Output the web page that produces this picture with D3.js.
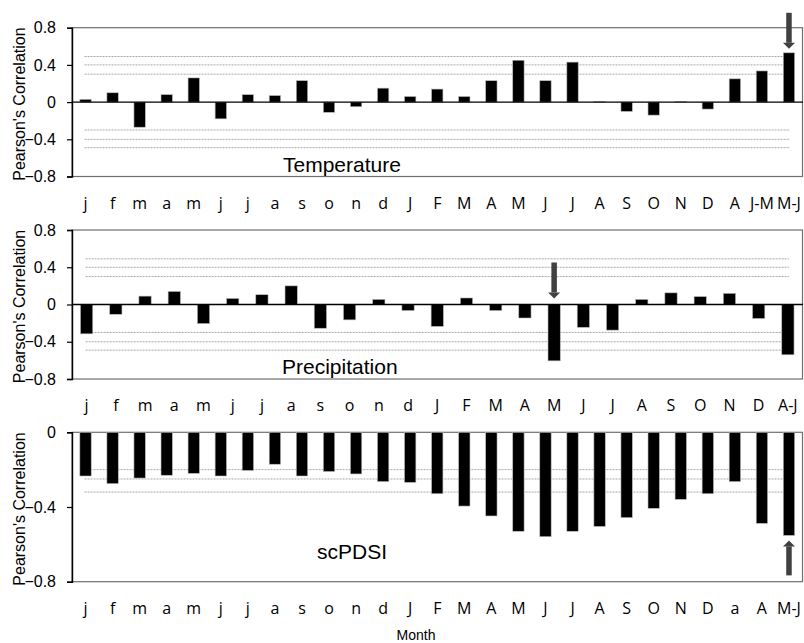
<!DOCTYPE html>
<html>
<head>
<meta charset="utf-8">
<script src="https://cdn.jsdelivr.net/npm/d3@7"></script>
<style>
  body { margin: 0; background: #fff; }
  svg { display: block; }
</style>
</head>
<body>
<svg id="chart" width="804" height="643"></svg>
<script>
// Monthly climate–growth correlations (lowercase = previous year, uppercase = current year)
const tempLabels = ["j","f","m","a","m","j","j","a","s","o","n","d","J","F","M","A","M","J","J","A","S","O","N","D","A","J-M","M-J"];
const tempValues = [0.03, 0.10, -0.27, 0.08, 0.26, -0.18, 0.08, 0.07, 0.23, -0.11, -0.05, 0.15,
                    0.06, 0.14, 0.06, 0.23, 0.45, 0.23, 0.43, 0.005, -0.10, -0.14, 0.005, -0.075,
                    0.25, 0.335, 0.53];

const precLabels = ["j","f","m","a","m","j","j","a","s","o","n","d","J","F","M","A","M","J","J","A","S","O","N","D","A-J"];
const precValues = [-0.315, -0.105, 0.09, 0.14, -0.205, 0.065, 0.105, 0.20, -0.255, -0.165, 0.055, -0.065,
                    -0.235, 0.07, -0.065, -0.145, -0.605, -0.245, -0.275, 0.055, 0.125, 0.085, 0.12, -0.15,
                    -0.54];

const pdsiLabels = ["j","f","m","a","m","j","j","a","s","o","n","d","J","F","M","A","M","J","J","A","S","O","N","D","a","A","M-J"];
const pdsiValues = [-0.234, -0.275, -0.245, -0.23, -0.22, -0.234, -0.204, -0.171, -0.234, -0.21, -0.223, -0.264,
                    -0.268, -0.329, -0.395, -0.448, -0.53, -0.559, -0.53, -0.504, -0.457, -0.407, -0.359, -0.329,
                    -0.264, -0.4875, -0.552];

// Axis ticks and significance thresholds
const fullTicks = [0.8, 0.4, 0, -0.4, -0.8];
const negTicks = [0, -0.4, -0.8];
const tempThresholds = [0.49, 0.4, 0.3, -0.3, -0.4, -0.49];
const precThresholds = [0.49, 0.4, 0.3, -0.3, -0.4, -0.49];
const pdsiThresholds = [-0.2, -0.25, -0.32];

const svg = d3.select("#chart");
const plotLeft = 72, plotRight = 802.5;
const numFont = "'Liberation Sans', Arial, sans-serif";
const catFont = "'Open Sans', 'Noto Sans', sans-serif";

const panels = [
  { labels: tempLabels, values: tempValues, domain: [-0.8, 0.8], ticks: fullTicks,
    top: 27.7, bottom: 176.5, thresholds: tempThresholds, name: "Temperature", nameX: 283, nameDy: -5,
    arrow: { index: 26, dir: "down", onBar: true } },
  { labels: precLabels, values: precValues, domain: [-0.8, 0.8], ticks: fullTicks,
    top: 230, bottom: 379, thresholds: precThresholds, name: "Precipitation", nameX: 282, nameDy: -5,
    arrow: { index: 16, dir: "down", onBar: false } },
  { labels: pdsiLabels, values: pdsiValues, domain: [-0.8, 0], ticks: negTicks,
    top: 432.3, bottom: 581.7, thresholds: pdsiThresholds, name: "scPDSI", nameX: 317, nameDy: -23,
    arrow: { index: 26, dir: "up", onBar: true } }
];

const tickFmt = v => (v === 0 ? "0" : d3.format(".1f")(v));

panels.forEach(p => {
  const g = svg.append("g");
  const x = d3.scaleBand().domain(d3.range(p.labels.length)).range([plotLeft, plotRight]).paddingInner(0.58).paddingOuter(0.29);
  const y = d3.scaleLinear().domain(p.domain).range([p.bottom, p.top]);
  const cx = i => x(i) + x.bandwidth() / 2;

  // plot frame
  g.append("rect")
    .attr("x", plotLeft).attr("y", p.top)
    .attr("width", plotRight - plotLeft).attr("height", p.bottom - p.top)
    .attr("fill", "none").attr("stroke", "#6f6f6f").attr("stroke-width", 1.2);

  // significance thresholds
  g.selectAll("line.thr").data(p.thresholds).join("line")
    .attr("class", "thr")
    .attr("x1", cx(0) - 1).attr("x2", cx(p.labels.length - 1) + 1)
    .attr("y1", d => y(d)).attr("y2", d => y(d))
    .attr("stroke", "#a8a8a8").attr("stroke-width", 1)
    .attr("stroke-dasharray", "2,1");

  // bars
  g.selectAll("rect.bar").data(p.values).join("rect")
    .attr("class", "bar")
    .attr("x", (d, i) => x(i))
    .attr("width", x.bandwidth())
    .attr("y", d => y(Math.max(0, d)))
    .attr("height", d => Math.abs(y(d) - y(0)))
    .attr("fill", "#000")
    .attr("stroke", "#b8b8b8").attr("stroke-width", 0.6);

  // zero line
  if (p.domain[1] > 0) {
    g.append("line")
      .attr("x1", plotLeft).attr("x2", plotRight + 0.5)
      .attr("y1", y(0)).attr("y2", y(0))
      .attr("stroke", "#000").attr("stroke-width", 1.4);
  }

  // y axis
  const yAxis = d3.axisLeft(y).tickValues(p.ticks).tickSize(5).tickPadding(11).tickFormat(tickFmt);
  const ya = g.append("g").attr("transform", `translate(${plotLeft},0)`).call(yAxis);
  ya.select(".domain").attr("stroke", "#000").attr("stroke-width", 1.4);
  ya.selectAll(".tick line").attr("stroke", "#000").attr("stroke-width", 1.2);
  ya.selectAll(".tick text").attr("font-family", numFont).attr("font-size", 16).attr("fill", "#000");

  // x category labels
  const xAxis = d3.axisBottom(x).tickSize(0).tickPadding(0).tickFormat(i => p.labels[i]);
  const xa = g.append("g").attr("transform", `translate(0,${p.bottom})`).call(xAxis);
  xa.select(".domain").remove();
  xa.selectAll(".tick text")
    .attr("y", 32).attr("dy", 0)
    .attr("font-family", catFont).attr("font-size", 16).attr("fill", "#000");

  // y title
  g.append("text")
    .attr("transform", `translate(24.5,${(p.top + p.bottom) / 2 + 2}) rotate(-90)`)
    .attr("text-anchor", "middle")
    .attr("font-family", numFont).attr("font-size", 16)
    .text("Pearson's Correlation");

  // panel name
  g.append("text")
    .attr("x", p.nameX).attr("y", p.bottom + p.nameDy)
    .attr("font-family", numFont).attr("font-size", 21)
    .text(p.name);

  // arrow marking the strongest response
  const a = p.arrow;
  const ax = cx(a.index);
  const v = p.values[a.index];
  let tip, tail;
  if (a.dir === "down") {
    tip = a.onBar ? y(v) - 4 : y(0) - 6;
    tail = tip - 36;
  } else {
    tip = y(v) + 5;
    tail = tip + 35;
  }
  const sgn = a.dir === "down" ? 1 : -1;
  const headH = 6, headW = 6;
  const shaftW = 5.5;
  const ag = g.append("g").attr("fill", "#404040");
  ag.append("rect")
    .attr("x", ax - shaftW / 2)
    .attr("y", Math.min(tail, tip - sgn * headH))
    .attr("width", shaftW)
    .attr("height", Math.abs(tip - sgn * headH - tail));
  ag.append("path")
    .attr("d", d3.line()([[ax - headW, tip - sgn * headH], [ax + headW, tip - sgn * headH], [ax, tip]]) + "Z");
});

// x axis title
svg.append("text")
  .attr("x", 416).attr("y", 640)
  .attr("text-anchor", "middle")
  .attr("font-family", numFont).attr("font-size", 14)
  .text("Month");
</script>
</body>
</html>
